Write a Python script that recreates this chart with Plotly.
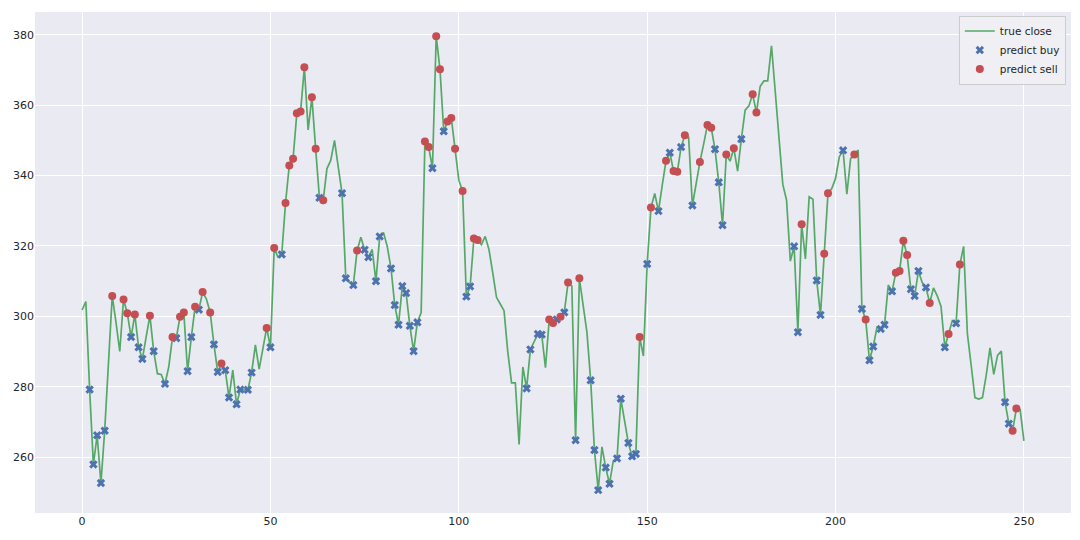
import plotly.graph_objects as go

# true close (index 0..250)
close = [
    301.8, 304.2, 279.2, 257.9, 266.2, 252.6, 267.5, 286.6, 305.8, 298.3,
    290.0, 304.8, 300.9, 294.1, 300.5, 291.2, 287.9, 294.1, 300.2, 290.1,
    283.7, 283.5, 280.8, 285.6, 294.1, 293.8, 299.9, 301.1, 284.4, 294.1,
    302.7, 301.9, 306.9, 304.9, 301.1, 292.0, 284.2, 286.6, 284.7, 276.9,
    284.7, 275.0, 279.2, 279.1, 279.1, 284.0, 291.9, 285.0, 291.3, 296.7,
    291.2, 319.4, 316.8, 317.6, 332.2, 342.9, 344.8, 357.7, 358.2, 370.8,
    353.0, 362.3, 347.6, 333.7, 333.0, 342.0, 344.3, 350.0, 342.4, 335.0,
    310.8, 309.6, 308.9, 318.7, 322.5, 318.9, 316.8, 319.0, 310.0, 322.7,
    323.8, 319.9, 313.6, 303.2, 297.6, 308.6, 306.6, 297.3, 290.1, 298.3,
    301.1, 349.7, 348.1, 342.1, 379.6, 370.2, 352.6, 355.4, 356.4, 347.6,
    338.7, 335.6, 305.6, 308.5, 322.1, 321.7, 320.4, 322.7, 319.0, 312.4,
    305.4, 303.5, 301.6, 289.9, 281.1, 281.1, 263.6, 285.6, 279.5, 290.6,
    292.9, 295.0, 294.8, 285.4, 299.1, 298.1, 299.1, 299.9, 301.1, 309.6,
    308.6, 264.8, 310.8, 303.0, 295.5, 281.8, 262.0, 250.6, 262.9, 257.0,
    252.4, 258.9, 259.6, 276.6, 270.1, 264.0, 260.2, 260.9, 294.1, 288.7,
    314.9, 330.9, 334.9, 329.9, 337.3, 344.2, 346.5, 341.3, 341.1, 348.1,
    351.5, 350.9, 331.5, 338.2, 343.9, 349.0, 354.4, 353.6, 347.5, 338.1,
    325.9, 346.0, 344.1, 347.8, 341.3, 350.4, 358.6, 359.8, 363.1, 357.9,
    365.4, 366.9, 366.9, 376.9, 364.0, 349.0, 337.5, 333.0, 315.7, 319.9,
    295.5, 326.2, 316.3, 334.0, 333.3, 310.2, 300.4, 317.8, 335.0, 336.3,
    339.2, 345.3, 347.2, 334.7, 344.8, 346.0, 347.3, 302.1, 299.1, 287.5,
    291.4, 296.9, 296.4, 297.6, 308.9, 307.1, 312.4, 312.9, 321.5, 317.4,
    307.7, 305.8, 312.9, 309.6, 308.2, 303.8, 308.1, 305.8, 302.8, 291.2,
    295.0, 298.8, 298.0, 314.7, 319.9, 295.0, 286.1, 276.9, 276.5, 276.9,
    283.3, 291.0, 283.5, 288.9, 290.1, 275.6, 269.5, 267.5, 273.8, 273.5,
    264.6,
]

buy_idx = [2, 3, 4, 5, 6, 13, 15, 16, 19, 22, 25, 28, 29, 31, 35, 36, 38, 39,
           41, 42, 44, 45, 50, 53, 63, 69, 70, 72, 75, 76, 78, 79, 82, 83, 84,
           85, 86, 87, 88, 89, 93, 96, 102, 103, 118, 119, 121, 122, 126, 128,
           131, 135, 136, 137, 139, 140, 142, 143, 145, 146, 147, 150, 153, 156,
           159, 162, 168, 169, 170, 175, 189, 190, 195, 196, 202, 207, 209, 210,
           212, 213, 215, 220, 221, 222, 224, 229, 232, 245, 246]

sell_idx = [8, 11, 12, 14, 18, 24, 26, 27, 30, 32, 34, 37, 49, 51, 54, 55, 56,
            57, 58, 59, 61, 62, 64, 73, 91, 92, 94, 95, 97, 98, 99, 101, 104,
            105, 124, 125, 127, 129, 132, 148, 151, 155, 157, 158, 160, 164,
            166, 167, 171, 173, 178, 179, 191, 197, 198, 205, 208, 216, 217,
            218, 219, 225, 230, 233, 247, 248]

days = list(range(len(close)))

fig = go.Figure()
fig.add_trace(go.Scatter(
    x=days, y=close, mode="lines", name="true close",
    line=dict(color="#55A868", width=1.7),
))
fig.add_trace(go.Scatter(
    x=buy_idx, y=[close[i] for i in buy_idx], mode="markers", name="predict buy",
    marker=dict(symbol="x", size=7.5, color="#4C72B0", line=dict(width=0)),
))
fig.add_trace(go.Scatter(
    x=sell_idx, y=[close[i] for i in sell_idx], mode="markers", name="predict sell",
    marker=dict(symbol="circle", size=8, color="#C44E52", line=dict(width=0)),
))

# page body has an 8px margin, so the figure is a bit smaller than the window
fig.update_layout(
    width=1072, height=532,
    margin=dict(l=27, r=9, t=4, b=27),
    paper_bgcolor="white",
    plot_bgcolor="#EAEAF2",
    font=dict(family="DejaVu Sans", size=11, color="#262626"),
    showlegend=True,
    legend=dict(
        x=0.995, y=0.993, xanchor="right", yanchor="top",
        bgcolor="rgba(240,240,245,0.85)", bordercolor="#CCCCCC", borderwidth=1,
        font=dict(size=10.5, color="#262626"),
        itemwidth=30, tracegroupgap=0,
    ),
)
fig.update_xaxes(
    range=[-12.5, 262.5], tickvals=[0, 50, 100, 150, 200, 250],
    showgrid=True, gridcolor="white", gridwidth=1, zeroline=False,
    showline=False, ticks="", automargin=False,
)
fig.update_yaxes(
    range=[244.1, 386.5], tickvals=[260, 280, 300, 320, 340, 360, 380],
    showgrid=True, gridcolor="white", gridwidth=1, zeroline=False,
    showline=False, ticks="", automargin=False,
)

fig.write_html("out.html")
